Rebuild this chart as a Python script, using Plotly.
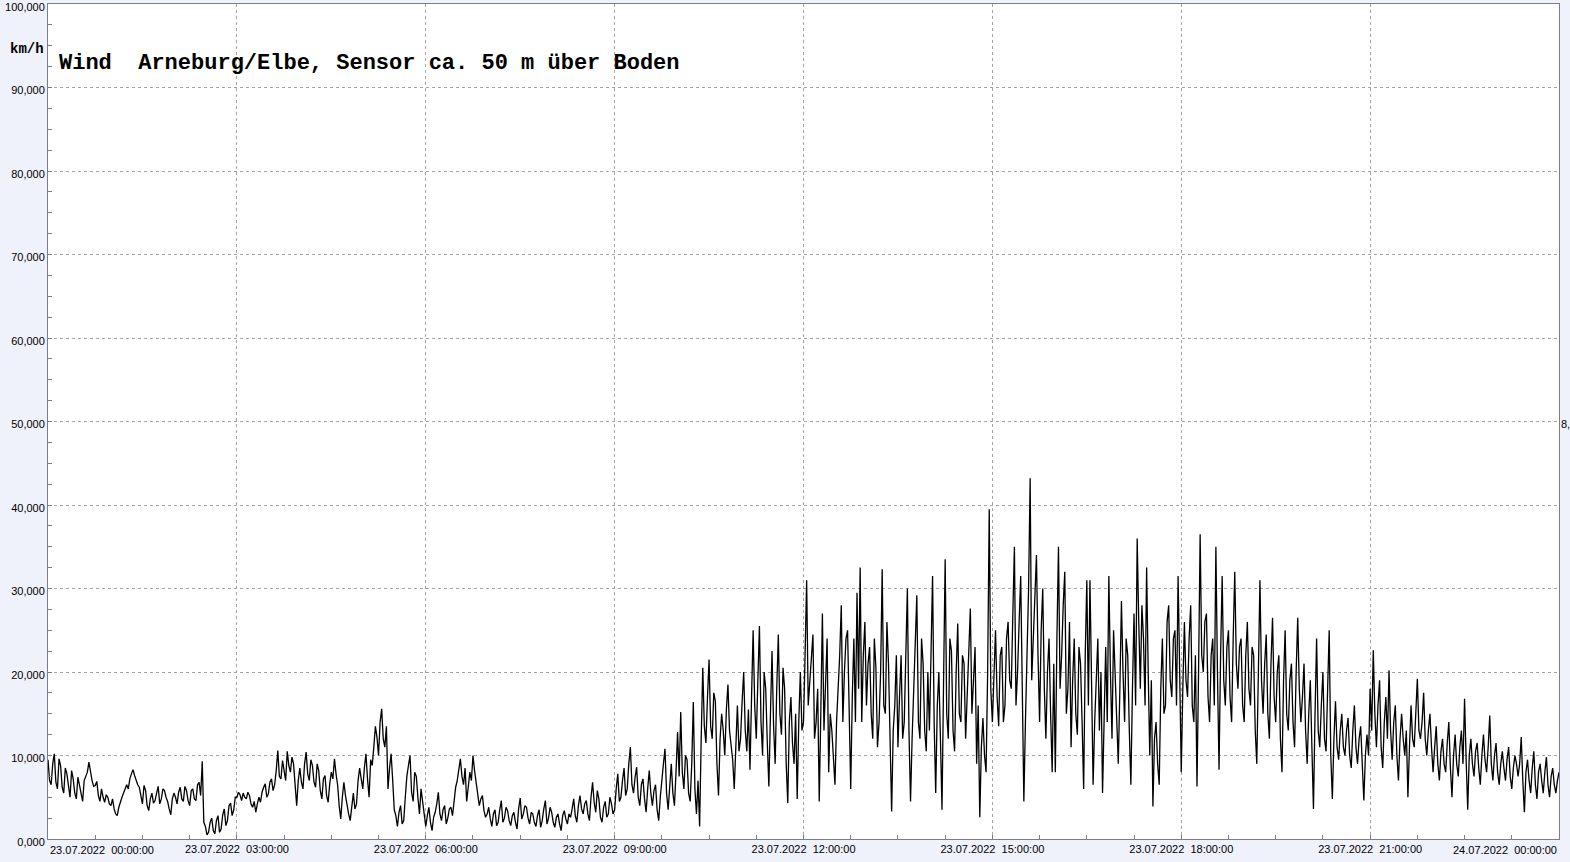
import pandas as pd
import plotly.graph_objects as go

# Wind speed (km/h), 23.07.2022 00:00 -> 24.07.2022 00:00.
# "a" readings every 3 minutes on the full step, "b" readings 1.5 minutes later.
a00_03 = [9.5, 6.5, 10.2, 6.0, 8.8, 5.5, 7.8, 5.0, 7.2, 4.8, 6.5, 4.5, 7.5, 9.2, 7.0, 6.4, 5.2, 6.0, 4.4, 5.0,
          4.0, 3.6, 2.8, 4.5, 5.5, 6.5, 7.2, 8.3, 7.0, 6.2, 4.2, 5.8, 3.4, 5.5, 4.6, 6.3, 4.8, 5.8, 4.5, 2.9,
          5.5, 4.2, 6.2, 4.5, 5.8, 4.0, 6.0, 4.6, 6.8, 9.3, 1.5, 0.8, 2.5, 0.6, 2.8, 1.2, 3.6, 2.2, 4.3, 3.5]
b00_03 = [7.0, 9.0, 6.8, 9.6, 6.2, 8.5, 6.0, 8.2, 5.5, 7.4, 5.2, 7.0, 8.0, 8.0, 6.3, 6.9, 4.5, 5.0, 5.3, 4.2,
          4.8, 3.0, 3.8, 5.0, 6.0, 6.0, 7.8, 7.6, 6.5, 5.0, 6.4, 4.0, 4.8, 4.3, 5.5, 4.2, 6.0, 5.0, 3.6, 4.8,
          5.0, 5.6, 4.8, 6.3, 4.6, 5.8, 4.8, 6.5, 5.2, 2.0, 0.5, 2.0, 1.0, 2.2, 0.8, 2.9, 1.6, 4.0, 2.8, 5.0]
a03_06 = [5.0, 5.3, 5.5, 4.8, 5.2, 3.8, 3.2, 5.0, 5.6, 6.6, 5.4, 7.2, 6.5, 10.6, 7.2, 8.4, 10.5, 8.0, 9.0, 4.0,
          8.5, 6.0, 10.4, 7.0, 8.8, 6.2, 8.2, 4.8, 7.6, 4.4, 8.0, 9.6, 6.5, 2.4, 6.8, 4.0, 2.2, 5.5, 4.2, 8.5,
          6.0, 10.2, 5.0, 8.8, 13.5, 10.0, 15.6, 11.0, 6.0, 10.2, 3.5, 1.5, 4.0, 2.2, 7.5, 10.0, 4.5, 7.5, 3.0, 4.5]
b03_06 = [5.6, 4.6, 5.0, 5.6, 4.2, 4.5, 4.2, 4.4, 6.2, 5.0, 6.8, 5.8, 8.2, 7.5, 9.4, 7.0, 8.8, 9.8, 6.2, 7.0,
          6.8, 9.0, 7.8, 9.5, 6.8, 9.0, 5.8, 7.2, 5.2, 6.6, 7.2, 7.8, 4.0, 5.0, 5.2, 3.0, 4.0, 3.6, 7.0, 7.2,
          8.5, 7.2, 9.5, 11.0, 12.2, 14.0, 12.0, 13.5, 8.5, 7.0, 2.8, 3.2, 1.8, 5.0, 8.8, 5.6, 8.0, 5.0, 6.0, 3.2]
a06_09 = [1.5, 3.8, 1.0, 3.2, 5.6, 2.2, 4.0, 2.5, 3.8, 5.0, 7.0, 9.6, 6.5, 4.5, 8.0, 10.0, 6.6, 4.0, 5.2, 2.6,
          3.8, 1.5, 3.5, 2.0, 4.6, 2.5, 3.4, 1.6, 3.2, 1.2, 4.9, 3.0, 3.8, 1.8, 3.0, 1.5, 3.5, 2.2, 4.6, 2.5,
          3.2, 1.4, 3.0, 1.0, 3.4, 1.8, 2.6, 4.8, 2.0, 5.2, 3.0, 4.6, 2.2, 6.8, 3.2, 4.8, 2.0, 4.5, 3.0, 4.2]
b06_09 = [2.8, 2.0, 2.6, 4.2, 3.0, 3.5, 1.8, 3.6, 2.8, 6.2, 8.2, 7.5, 8.5, 6.2, 7.0, 8.2, 5.0, 4.8, 3.4, 3.0,
          2.4, 3.0, 1.6, 3.5, 2.0, 3.8, 2.2, 2.8, 2.0, 3.6, 2.4, 4.0, 2.5, 3.2, 2.0, 2.8, 1.4, 3.6, 1.8, 3.8,
          2.0, 2.6, 1.8, 2.8, 2.4, 3.0, 3.6, 2.8, 4.0, 3.6, 4.2, 3.0, 5.0, 4.4, 5.8, 2.6, 3.8, 2.6, 5.0, 3.0]
a09_12 = [3.5, 7.8, 5.0, 8.5, 6.0, 11.0, 5.5, 8.6, 4.0, 7.2, 3.2, 8.2, 4.0, 6.5, 2.2, 7.5, 10.8, 3.5, 9.0, 4.0,
          12.8, 15.2, 6.0, 9.5, 4.5, 16.4, 3.0, 1.5, 20.5, 11.5, 21.5, 12.0, 16.5, 5.2, 15.0, 10.0, 18.5, 11.0, 6.0, 16.0,
          12.0, 20.0, 10.5, 8.3, 25.0, 12.0, 25.5, 10.0, 18.0, 6.3, 22.5, 9.0, 24.5, 12.5, 18.0, 4.3, 17.0, 9.0, 4.8, 20.0]
b09_12 = [6.0, 4.5, 7.0, 5.2, 9.0, 6.5, 7.4, 5.0, 6.5, 4.8, 6.0, 5.5, 5.8, 3.5, 5.0, 9.0, 5.5, 7.0, 5.5, 8.0,
          7.5, 8.0, 10.0, 5.5, 9.0, 6.0, 7.0, 12.0, 13.5, 17.0, 13.5, 17.5, 9.0, 12.0, 13.0, 15.5, 13.0, 9.5, 12.5, 10.5,
          16.5, 13.0, 15.5, 17.0, 16.0, 19.0, 14.0, 20.0, 11.5, 15.0, 13.5, 18.0, 15.0, 20.5, 9.0, 14.0, 11.5, 15.0, 14.0, 13.0]
a12_15 = [14.0, 31.0, 19.0, 24.5, 14.0, 4.5, 27.0, 19.5, 8.0, 13.0, 6.5, 18.0, 28.0, 20.0, 25.0, 6.0, 24.0, 29.5, 32.5, 22.0,
          16.0, 23.0, 12.0, 20.5, 14.0, 32.3, 15.0, 21.0, 3.3, 16.0, 11.0, 22.0, 14.0, 30.0, 4.5, 18.0, 29.2, 12.0, 21.0, 10.5,
          13.0, 31.5, 5.5, 20.0, 3.5, 33.5, 12.0, 22.5, 10.5, 25.8, 14.0, 21.0, 17.5, 27.6, 19.0, 9.0, 2.6, 14.5, 8.0, 39.5]
b12_15 = [22.0, 16.0, 22.0, 12.0, 18.0, 15.0, 13.0, 24.0, 15.0, 9.0, 14.0, 22.0, 14.0, 24.0, 13.0, 17.0, 14.0, 18.0, 14.0, 26.0,
          21.0, 15.0, 24.0, 11.0, 20.0, 16.0, 26.0, 12.0, 13.0, 22.0, 17.0, 12.0, 22.0, 13.0, 12.0, 23.0, 14.0, 24.0, 13.0, 20.0,
          22.0, 14.0, 16.0, 12.0, 19.0, 15.0, 24.0, 13.0, 20.0, 15.0, 22.0, 12.0, 24.0, 15.0, 23.0, 16.0, 11.0, 10.0, 20.0, 18.0]
a15_18 = [14.0, 25.0, 13.5, 23.0, 16.0, 26.0, 18.0, 35.0, 20.0, 31.5, 4.5, 22.0, 43.2, 24.0, 34.0, 14.0, 30.0, 12.0, 24.0, 8.0,
          8.0, 35.0, 22.0, 32.0, 18.0, 11.0, 24.0, 12.5, 21.0, 6.0, 31.0, 31.0, 6.5, 20.0, 13.0, 5.5, 23.0, 31.5, 12.0, 20.0,
          9.0, 28.5, 14.0, 22.0, 6.5, 27.0, 36.0, 18.0, 24.0, 32.5, 10.0, 3.9, 14.0, 6.5, 24.0, 16.0, 28.0, 17.0, 25.0, 31.5]
b15_18 = [20.0, 17.0, 22.0, 14.0, 24.0, 19.0, 27.0, 16.0, 26.0, 18.0, 14.0, 30.0, 19.0, 29.0, 22.0, 25.0, 18.0, 20.0, 15.0, 21.0,
          24.0, 18.0, 28.0, 15.0, 26.0, 19.0, 15.0, 23.0, 14.0, 22.0, 16.0, 19.0, 14.0, 24.0, 20.0, 16.0, 14.0, 20.0, 25.0, 14.0,
          18.0, 20.0, 24.0, 13.0, 18.0, 16.0, 26.0, 28.0, 16.0, 20.0, 19.0, 12.0, 9.0, 18.0, 15.0, 26.0, 19.0, 24.0, 16.0, 20.0]
a18_21 = [8.0, 26.0, 17.0, 28.0, 14.0, 6.3, 36.5, 20.0, 27.0, 14.0, 24.0, 35.0, 8.3, 31.5, 16.0, 25.0, 14.0, 32.0, 18.0, 24.0,
          14.0, 26.0, 16.0, 22.0, 9.0, 31.0, 15.0, 24.5, 12.0, 26.5, 14.0, 22.0, 8.0, 25.0, 13.0, 21.0, 11.0, 26.5, 14.0, 21.0,
          9.0, 19.0, 3.6, 24.0, 11.0, 20.0, 10.5, 25.0, 4.8, 16.5, 9.5, 15.0, 10.0, 14.5, 8.5, 16.0, 9.0, 13.5, 4.6, 12.5]
b18_21 = [18.0, 19.0, 24.0, 16.0, 22.0, 20.0, 22.0, 26.0, 17.0, 22.0, 16.0, 20.0, 22.0, 19.0, 23.0, 17.0, 24.0, 21.0, 23.0, 16.0,
          22.0, 18.0, 23.0, 13.0, 20.0, 19.0, 21.0, 15.0, 21.0, 17.0, 20.0, 12.0, 19.0, 15.0, 19.0, 14.0, 20.0, 18.0, 17.0, 13.0,
          15.0, 11.0, 15.0, 13.0, 16.0, 12.0, 18.0, 10.0, 12.0, 11.0, 13.0, 11.0, 13.0, 10.0, 13.0, 11.0, 12.0, 9.0, 10.0, 10.0]
a21_24 = [18.0, 22.6, 11.0, 19.0, 8.5, 17.0, 20.2, 9.5, 16.0, 7.0, 15.0, 10.0, 5.0, 16.0, 11.0, 19.2, 12.0, 17.5, 10.0, 15.0,
          8.0, 13.5, 7.0, 12.0, 8.0, 14.0, 5.0, 12.5, 7.5, 13.0, 16.8, 3.5, 12.0, 7.5, 11.5, 6.5, 12.5, 8.0, 14.8, 7.0,
          11.5, 6.5, 10.5, 7.0, 11.0, 6.0, 10.0, 7.5, 12.2, 3.2, 9.5, 5.5, 10.5, 4.8, 9.0, 5.5, 9.8, 5.0, 8.5, 5.5, 8.0]
b21_24 = [13.0, 15.0, 16.0, 11.0, 14.0, 12.0, 13.0, 14.0, 10.0, 12.0, 12.0, 13.0, 11.0, 12.0, 15.0, 13.0, 14.0, 12.0, 13.0, 11.0,
          11.0, 9.0, 10.5, 9.0, 11.5, 8.5, 10.0, 9.0, 11.0, 9.0, 9.5, 10.0, 9.0, 10.5, 8.5, 10.0, 9.5, 11.0, 9.0, 10.0,
          8.0, 9.0, 8.5, 9.5, 7.5, 8.5, 9.0, 9.0, 7.0, 8.0, 7.0, 8.5, 6.5, 8.0, 7.0, 8.0, 6.5, 7.5, 6.5, 7.0]

a_all = a00_03 + a03_06 + a06_09 + a09_12 + a12_15 + a15_18 + a18_21 + a21_24
b_all = b00_03 + b03_06 + b06_09 + b09_12 + b12_15 + b15_18 + b18_21 + b21_24
wind = []
for i, v in enumerate(a_all):
    wind.append(v)
    if i < len(b_all):
        wind.append(b_all[i])
times = pd.date_range("2022-07-23 00:00:00", periods=len(wind), freq="90s")

x_tickvals = pd.date_range("2022-07-23 00:00:00", "2022-07-24 00:00:00", freq="3h")
x_ticklabels = ["23.07.2022\u00a0 00:00:00", "23.07.2022\u00a0 03:00:00", "23.07.2022\u00a0 06:00:00",
                "23.07.2022\u00a0 09:00:00", "23.07.2022\u00a0 12:00:00", "23.07.2022\u00a0 15:00:00",
                "23.07.2022\u00a0 18:00:00", "23.07.2022\u00a0 21:00:00", "24.07.2022\u00a0 00:00:00"]
y_tickvals = [0, 10, 20, 30, 40, 50, 60, 70, 80, 90, 100]
y_ticklabels = ["0,000", "10,000", "20,000", "30,000", "40,000", "50,000",
                "60,000", "70,000", "80,000", "90,000", "100,000"]

title_text = "Wind\u00a0 Arneburg/Elbe, Sensor ca. 50 m über Boden"
unit_text = "km/h"

# the two edge labels are aligned to the plot edges (drawn at their axis positions)
x_text = [""] + x_ticklabels[1:-1] + [""]

fig = go.Figure()
fig.add_trace(go.Scatter(x=times, y=wind, mode="lines",
                         line=dict(color="#000000", width=1.3), hoverinfo="x+y"))

axis_line = "#7c7c8c"
grid_col = "#a4a4a4"
tick_font = dict(family="Liberation Sans, Arial", size=11, color="#000000")
fig.update_xaxes(
    type="date", automargin=False,
    range=[x_tickvals[0], x_tickvals[-1]],
    tickmode="array", tickvals=x_tickvals, ticktext=x_text,
    ticks="inside", ticklen=4, tickcolor=axis_line,
    showgrid=True, gridcolor=grid_col, griddash="3px,3px", gridwidth=1,
    minor=dict(dtick=45 * 60 * 1000, tick0="2022-07-23", ticks="inside", ticklen=4,
               tickcolor=axis_line, showgrid=False),
    showline=True, linecolor=axis_line, linewidth=1, mirror=True,
    tickfont=tick_font, zeroline=False,
)
fig.update_yaxes(
    automargin=False,
    range=[0, 100],
    tickmode="array", tickvals=y_tickvals, ticktext=y_ticklabels,
    ticks="inside", ticklen=4, tickcolor=axis_line,
    showgrid=True, gridcolor=grid_col, griddash="3px,3px", gridwidth=1,
    minor=dict(dtick=2.5, tick0=0, ticks="inside", ticklen=4, tickcolor=axis_line, showgrid=False),
    showline=True, linecolor=axis_line, linewidth=1, mirror=True,
    tickfont=tick_font, zeroline=False, ticklabelstandoff=0, ticklabelshift=3,
    ticklabeloverflow="allow",
)

fig.add_annotation(text=x_ticklabels[0], xref="x", yref="paper", x=x_tickvals[0], y=0,
                   xanchor="left", yanchor="top", yshift=-3, showarrow=False, font=tick_font)
fig.add_annotation(text=x_ticklabels[-1], xref="x", yref="paper", x=x_tickvals[-1], y=0,
                   xanchor="right", yanchor="top", yshift=-3, showarrow=False, font=tick_font)

fig.add_annotation(text=title_text, xref="paper", yref="paper", x=0.006, y=0.9287,
                   xanchor="left", yanchor="middle", showarrow=False,
                   font=dict(family="Liberation Mono, Courier New, monospace", size=22,
                             color="#000000", weight="bold"))
fig.add_annotation(text=unit_text, xref="paper", yref="paper", x=-0.001, y=0.9465,
                   xanchor="right", yanchor="middle", showarrow=False,
                   font=dict(family="Liberation Mono, Courier New, monospace", size=14,
                             color="#000000", weight="bold"))
fig.add_annotation(text="8,", xref="paper", yref="y", x=1.0, y=50, xanchor="left",
                   yanchor="middle", showarrow=False, xshift=0, yshift=-2,
                   font=tick_font)

fig.update_layout(
    width=1570, height=862,
    margin=dict(l=48, r=11, t=4, b=23, pad=0, autoexpand=False),
    paper_bgcolor="#eff1fb", plot_bgcolor="#ffffff",
    showlegend=False,
)

fig.write_html("out.html", config={"displayModeBar": False},
               post_script="document.body.style.margin='0';document.body.style.overflow='hidden';")
